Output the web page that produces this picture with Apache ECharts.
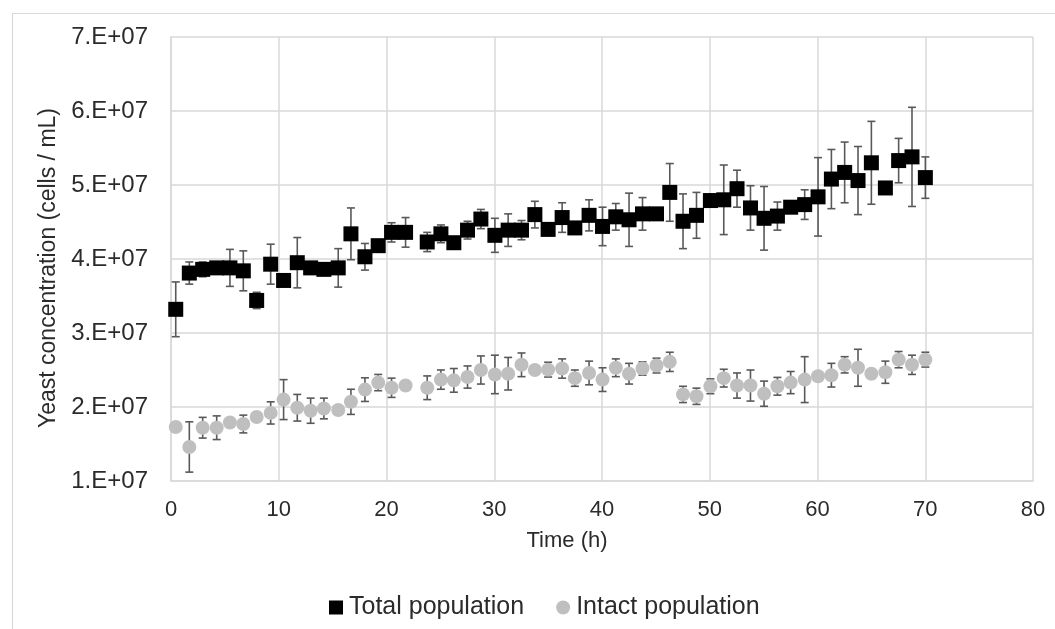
<!DOCTYPE html>
<html>
<head>
<meta charset="utf-8">
<script src="https://cdn.jsdelivr.net/npm/echarts@6/dist/echarts.min.js"></script>
<style>
html,body{margin:0;padding:0;background:#fff;}
#chart{width:1055px;height:629px;}
</style>
</head>
<body>
<div id="chart"></div>
<script>
const times = [0.44,1.70,2.94,4.24,5.47,6.71,7.95,9.25,10.45,11.72,12.96,14.19,15.52,16.70,18.00,19.23,20.47,21.77,23.78,25.05,26.25,27.52,28.76,30.06,31.29,32.53,33.77,35.00,36.30,37.48,38.80,40.05,41.28,42.51,43.76,45.06,46.29,47.52,48.77,50.06,51.30,52.53,53.78,55.04,56.28,57.51,58.81,60.05,61.29,62.52,63.76,65.00,66.30,67.53,68.77,70.01];
const totalMean = [3.32e7,3.81e7,3.86e7,3.88e7,3.88e7,3.84e7,3.44e7,3.93e7,3.71e7,3.95e7,3.88e7,3.86e7,3.88e7,4.34e7,4.03e7,4.18e7,4.36e7,4.36e7,4.23e7,4.34e7,4.22e7,4.39e7,4.54e7,4.32e7,4.39e7,4.39e7,4.60e7,4.40e7,4.56e7,4.42e7,4.59e7,4.44e7,4.57e7,4.53e7,4.61e7,4.61e7,4.90e7,4.51e7,4.59e7,4.79e7,4.80e7,4.95e7,4.69e7,4.55e7,4.58e7,4.70e7,4.735e7,4.84e7,5.08e7,5.17e7,5.06e7,5.30e7,4.96e7,5.33e7,5.38e7,5.10e7];
const totalErr = [0.37e7,0.15e7,0.10e7,0.05e7,0.25e7,0.27e7,0.11e7,0.27e7,0,0.34e7,0.05e7,0.05e7,0.26e7,0.35e7,0.18e7,0.03e7,0.13e7,0.20e7,0.13e7,0.12e7,0,0.12e7,0.13e7,0.23e7,0.22e7,0.13e7,0.18e7,0.05e7,0.20e7,0,0.21e7,0.26e7,0.18e7,0.36e7,0.22e7,0.03e7,0.39e7,0.37e7,0.31e7,0.05e7,0.47e7,0.25e7,0.30e7,0.43e7,0.19e7,0,0.20e7,0.53e7,0.40e7,0.41e7,0.46e7,0.56e7,0,0.30e7,0.67e7,0.28e7];
const intactMean = [1.73e7,1.46e7,1.72e7,1.72e7,1.79e7,1.77e7,1.865e7,1.92e7,2.10e7,1.99e7,1.95e7,1.98e7,1.96e7,2.07e7,2.235e7,2.33e7,2.26e7,2.29e7,2.26e7,2.37e7,2.36e7,2.405e7,2.50e7,2.44e7,2.45e7,2.57e7,2.50e7,2.505e7,2.52e7,2.39e7,2.46e7,2.37e7,2.53e7,2.45e7,2.52e7,2.56e7,2.61e7,2.17e7,2.145e7,2.28e7,2.39e7,2.29e7,2.29e7,2.18e7,2.28e7,2.33e7,2.37e7,2.415e7,2.43e7,2.57e7,2.53e7,2.45e7,2.47e7,2.64e7,2.57e7,2.64e7];
const intactErr = [0,0.34e7,0.14e7,0.16e7,0,0.12e7,0,0.15e7,0.27e7,0.18e7,0.17e7,0.14e7,0,0.17e7,0.16e7,0.11e7,0.13e7,0,0.16e7,0.13e7,0.16e7,0.15e7,0.19e7,0.26e7,0.22e7,0.16e7,0,0.10e7,0.13e7,0.11e7,0.16e7,0.16e7,0.12e7,0.14e7,0.09e7,0.10e7,0.13e7,0.11e7,0.11e7,0.10e7,0.12e7,0.17e7,0.21e7,0.17e7,0.12e7,0.15e7,0.31e7,0,0.16e7,0.11e7,0.25e7,0,0.15e7,0.11e7,0.13e7,0.10e7];
const seriesNames = ['Total population','Intact population'];
const xTitle = 'Time (h)';
const yTitle = 'Yeast concentration (cells / mL)';

const totalPts = times.map((t,i)=>[t,totalMean[i]]);
const intactPts = times.map((t,i)=>[t,intactMean[i]]);
const totalBars = times.map((t,i)=>[t,totalMean[i]-totalErr[i],totalMean[i]+totalErr[i]]);
const intactBars = times.map((t,i)=>[t,intactMean[i]-intactErr[i],intactMean[i]+intactErr[i]]);

function errRender(params, api){
  const x = api.value(0), lo = api.value(1), hi = api.value(2);
  if (hi - lo <= 0) return null;
  const pLo = api.coord([x, lo]);
  const pHi = api.coord([x, hi]);
  const w = 4;
  const st = {stroke:'#595959', lineWidth:1.6};
  return {type:'group', children:[
    {type:'line', shape:{x1:pLo[0],y1:pLo[1],x2:pHi[0],y2:pHi[1]}, style:st},
    {type:'line', shape:{x1:pHi[0]-w,y1:pHi[1],x2:pHi[0]+w,y2:pHi[1]}, style:st},
    {type:'line', shape:{x1:pLo[0]-w,y1:pLo[1],x2:pLo[0]+w,y2:pLo[1]}, style:st}
  ]};
}

const chart = echarts.init(document.getElementById('chart'), null, {renderer:'canvas'});
const font = 'Liberation Sans, Arial, sans-serif';
const txt = '#2b2b2b';
chart.setOption({
  animation:false,
  backgroundColor:'#fff',
  graphic:[
    {type:'rect', left:10, top:11, shape:{width:1100, height:700}, style:{fill:null, stroke:'#d9d9d9', lineWidth:1.2}, silent:true},
    {type:'text', x:49, y:268, rotation:Math.PI/2, silent:true,
     style:{text:yTitle, fontFamily:font, fontSize:23, fill:txt, align:'center', verticalAlign:'middle'}},
    {type:'text', x:567, y:541, silent:true,
     style:{text:xTitle, fontFamily:font, fontSize:22, fill:txt, align:'center', verticalAlign:'middle'}}
  ],
  grid:{left:171, top:37, width:862, height:444, containLabel:false},
  legend:{
    data:[{name:seriesNames[0], icon:'rect'},{name:seriesNames[1], icon:'circle'}],
    bottom:4, left:324, itemWidth:14, itemHeight:14, itemGap:32,
    textStyle:{fontFamily:font, fontSize:25, color:txt, padding:[0,0,0,1]}
  },
  xAxis:{
    type:'value', min:0, max:80, interval:10,
    axisLine:{show:true, lineStyle:{color:'#d9d9d9', width:1.5}},
    axisTick:{show:false},
    axisLabel:{fontFamily:font, fontSize:22, color:txt, margin:18},
    splitLine:{show:true, lineStyle:{color:'#d9d9d9', width:1.5}}
  },
  yAxis:{
    type:'value', min:1e7, max:7e7, interval:1e7,
    axisLine:{show:true, lineStyle:{color:'#d9d9d9', width:1.5}},
    axisTick:{show:false},
    axisLabel:{fontFamily:font, fontSize:24, color:txt, margin:23, formatter:v=>Math.round(v/1e7)+'.E+07'},
    splitLine:{show:true, lineStyle:{color:'#d9d9d9', width:1.5}}
  },
  series:[
    {type:'custom', renderItem:errRender, data:totalBars, encode:{x:0,y:[1,2]}, z:2, silent:true},
    {type:'custom', renderItem:errRender, data:intactBars, encode:{x:0,y:[1,2]}, z:2, silent:true},
    {name:seriesNames[0], type:'scatter', data:totalPts, symbol:'rect', symbolSize:15, itemStyle:{color:'#000', opacity:1}, z:3},
    {name:seriesNames[1], type:'scatter', data:intactPts, symbol:'circle', symbolSize:14, itemStyle:{color:'#bfbfbf', opacity:1}, z:3}
  ]
});
</script>
</body>
</html>
